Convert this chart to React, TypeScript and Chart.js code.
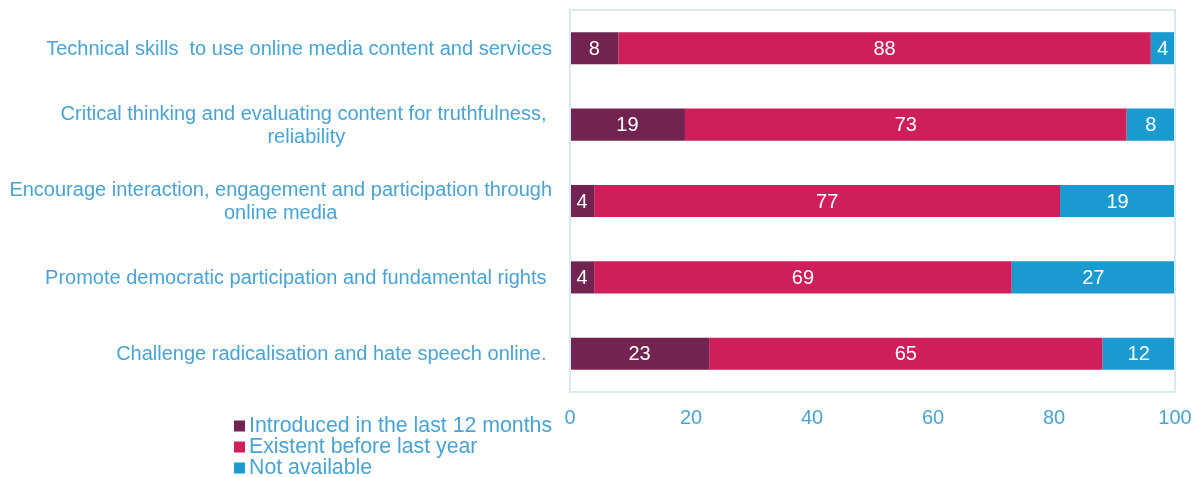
import { useEffect, useRef } from 'react';
import { Chart, registerables } from 'chart.js';

Chart.register(...registerables);

const categories: string[][] = [
  ['Technical skills  to use online media content and services'],
  ['Critical thinking and evaluating content for truthfulness, ', 'reliability'],
  ['Encourage interaction, engagement and participation through', 'online media'],
  ['Promote democratic participation and fundamental rights '],
  ['Challenge radicalisation and hate speech online. '],
];

const seriesNames = ['Introduced in the last 12 months', 'Existent before last year', 'Not available'];
const introduced = [8, 19, 4, 4, 23];
const existent = [88, 73, 77, 69, 65];
const notAvailable = [4, 8, 19, 27, 12];
const xTicks = [0, 20, 40, 60, 80, 100];

const colors = ['#722350', '#CE1F5A', '#1A9BD0'];
const textColor = '#4AA3D4';
const borderColor = '#D6EAF4';
const fontFamily = '"Liberation Sans", Arial, sans-serif';

export default function App() {
  const ref = useRef<HTMLCanvasElement>(null);

  useEffect(() => {
    const canvas = ref.current!;
    const custom = {
      id: 'custom',
      afterDatasetsDraw(chart: any) {
        const ctx = chart.ctx;
        ctx.save();
        ctx.fillStyle = '#FFFFFF';
        ctx.font = `20px ${fontFamily}`;
        ctx.textAlign = 'center';
        ctx.textBaseline = 'middle';
        chart.data.datasets.forEach((ds: any, i: number) => {
          const meta = chart.getDatasetMeta(i);
          meta.data.forEach((el: any, j: number) => {
            const v = ds.data[j];
            if (!v) return;
            const cx = (el.x + el.base) / 2;
            ctx.fillText(String(v), cx, el.y + 1);
          });
        });
        ctx.restore();
      },
      afterDraw(chart: any) {
        const ctx = chart.ctx;
        const a = chart.chartArea;
        ctx.save();
        ctx.strokeStyle = borderColor;
        ctx.lineWidth = 2;
        ctx.strokeRect(a.left, a.top, a.right - a.left, a.bottom - a.top);
        const yScale = chart.scales.y;
        ctx.fillStyle = textColor;
        ctx.font = `20px ${fontFamily}`;
        ctx.textAlign = 'center';
        ctx.textBaseline = 'middle';
        const rightEdge = 552;
        const lineH = 23;
        categories.forEach((lines, j) => {
          const cy = yScale.getPixelForValue(j);
          const w = Math.max(...lines.map((l) => ctx.measureText(l).width));
          const cx = rightEdge - w / 2;
          lines.forEach((l, k) => {
            ctx.fillText(l, cx, cy + (k - (lines.length - 1) / 2) * lineH + 1);
          });
        });
        ctx.font = `21.3px ${fontFamily}`;
        ctx.textAlign = 'left';
        seriesNames.forEach((name, i) => {
          const ry = 425.5 + i * 21;
          ctx.fillStyle = colors[i];
          ctx.fillRect(234, ry - 5, 11, 11);
          ctx.fillStyle = textColor;
          ctx.fillText(name, 249, ry + 1);
        });
        ctx.restore();
      },
    };

    const chart = new Chart(canvas, {
      type: 'bar',
      data: {
        labels: categories.map((c) => c.join(' ')),
        datasets: [
          { label: seriesNames[0], data: introduced, backgroundColor: colors[0], borderWidth: 0, barPercentage: 0.42, categoryPercentage: 1 },
          { label: seriesNames[1], data: existent, backgroundColor: colors[1], borderWidth: 0, barPercentage: 0.42, categoryPercentage: 1 },
          { label: seriesNames[2], data: notAvailable, backgroundColor: colors[2], borderWidth: 0, barPercentage: 0.42, categoryPercentage: 1 },
        ],
      },
      options: {
        indexAxis: 'y',
        responsive: false,
        maintainAspectRatio: false,
        animation: false,
        layout: { padding: { top: 10, right: 26, left: 0, bottom: 0 } },
        scales: {
          x: {
            stacked: true,
            min: 0,
            max: 100,
            afterBuildTicks: (s: any) => {
              s.ticks = xTicks.map((v) => ({ value: v }));
            },
            ticks: { color: textColor, font: { family: fontFamily, size: 20 }, padding: 6, maxRotation: 0 },
            grid: { display: false },
            border: { display: false },
            afterFit: (s: any) => {
              s.height = 85;
              s.paddingRight = 0;
              s.paddingLeft = 0;
            },
          },
          y: {
            stacked: true,
            ticks: { display: false },
            grid: { display: false },
            border: { display: false },
            afterFit: (s: any) => {
              s.width = 570;
              s.paddingTop = 0;
              s.paddingBottom = 0;
            },
          },
        },
        plugins: {
          legend: { display: false },
          tooltip: { enabled: false },
        },
      },
      plugins: [custom],
    });
    return () => chart.destroy();
  }, []);

  return (
    <div style={{ position: 'absolute', left: 0, top: 0, width: 1201, height: 477 }}>
      <canvas ref={ref} width={1201} height={477} style={{ display: 'block' }} />
    </div>
  );
}
